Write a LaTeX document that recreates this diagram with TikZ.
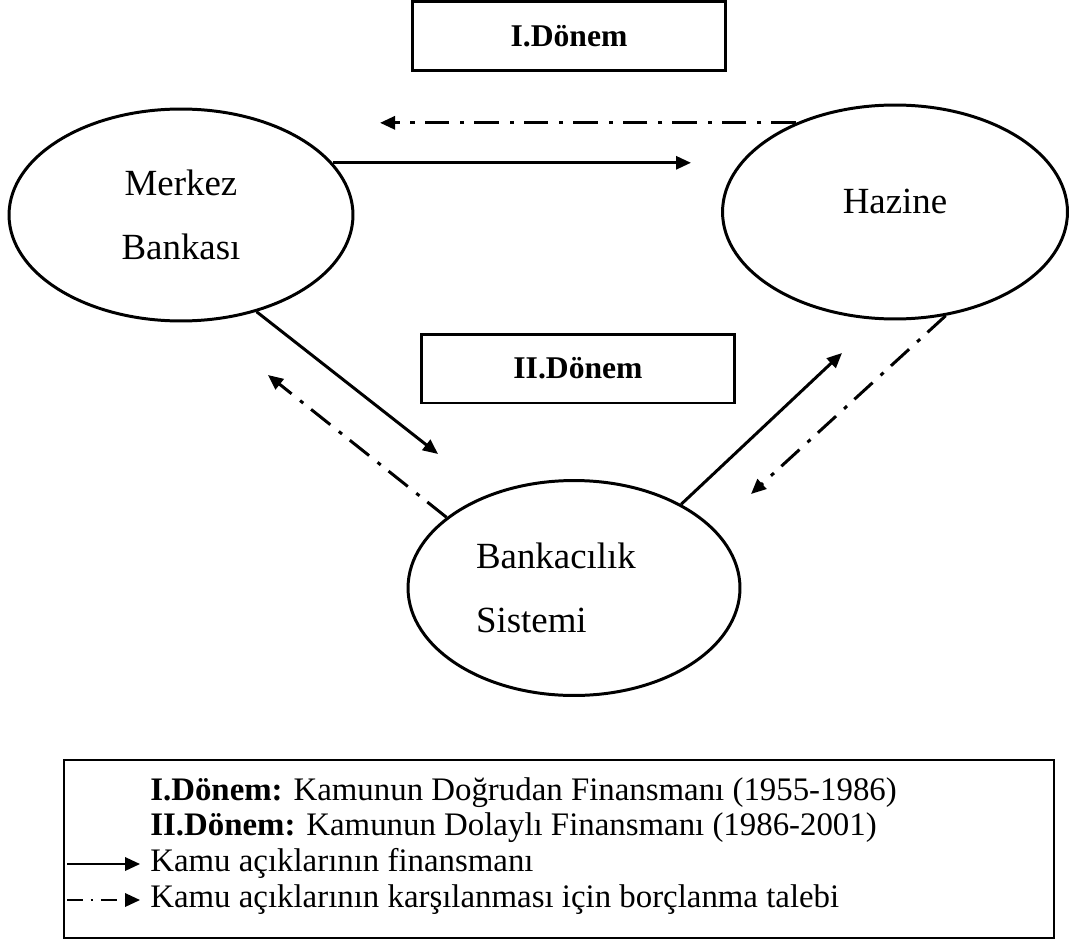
\documentclass[tikz,border=0pt]{standalone}
\usepackage{fontspec}
\setmainfont{Liberation Serif}
\usetikzlibrary{shapes.geometric, arrows.meta}
\tikzset{->,  % every connector is directed
>={Triangle[length=0.3cm, width=0.26cm]}, % filled triangle heads
sector/.style={ellipse, draw, line width=1.7pt, align=center,
  font=\fontsize{21}{36.6}\selectfont}, % the three institutions
period/.style={draw, line width=1.7pt, minimum width=6.28cm, minimum height=1.38cm,
  font=\fontsize{18}{22}\selectfont\bfseries}, % the period boxes
fin/.style={line width=1.7pt}, % financing
borrow/.style={line width=1.7pt, dash pattern=on 14pt off 5.7pt on 2.3pt off 6.2pt}, % borrowing demand
keyfin/.style={line width=1.1pt, >={Triangle[length=0.3cm, width=0.27cm]}},
keyborrow/.style={keyfin, dash pattern=on 9pt off 4.5pt on 1.3pt off 4.5pt},
keytext/.style={anchor=base west, inner sep=0pt, font=\fontsize{18.7}{22}\selectfont},
}

\begin{document}
\begin{tikzpicture}[x=0.02cm, y=-0.02cm]
  \useasboundingbox (0,0) rectangle (1070,942);

  \node[period] (p1) at (569,36) {I.Dönem};
  \node[period] (p2) at (578,368.5) {II.Dönem};

  \node[sector, minimum width=6.88cm, minimum height=4.24cm] (mb) at (181,215) {Merkez\\Bankası};
  \node[sector, minimum width=6.9cm, minimum height=4.28cm, text depth=0.44cm] (hz) at (895,212) {Hazine};
  \node[sector, minimum width=6.64cm, minimum height=4.3cm, align=left, text width=3.92cm] (bs) at (574,588) {Bankacılık\\Sistemi};

  % free ends of the arrows
  \coordinate (aL) at (380,123);
  \coordinate (aR) at (691,163);
  \coordinate (c3) at (438,454);
  \coordinate (c4) at (268,375);
  \coordinate (c5) at (842,353);
  \coordinate (c6) at (751,494);

  \draw[borrow] (hz.138) -- (hz.138 -| aL);
  \draw[fin] (mb.19) -- (mb.19 -| aR);
  \draw[fin] (mb.-52) -- (c3);
  \draw[borrow] (bs.151) -- (c4);
  \draw[fin] (bs.38) -- (c5);
  \draw[borrow] (hz.-64) -- (c6);

  % legend
  \draw[-, line width=1.1pt] (64,760) rectangle (1054,938);
  \node[keytext] (l1) at (150,800) {\textbf{I.Dönem:} Kamunun Doğrudan Finansmanı (1955-1986)};
  \node[keytext] (l2) at (150,835) {\textbf{II.Dönem:} Kamunun Dolaylı Finansmanı (1986-2001)};
  \node[keytext] (l3) at (150,871) {Kamu açıklarının finansmanı};
  \node[keytext] (l4) at (150,907) {Kamu açıklarının karşılanması için borçlanma talebi};
  \coordinate (k3) at (67,864);
  \coordinate (k4) at (67,900);
  \draw[keyfin, shorten >=0.2cm] (k3) -- (k3 -| l3.west);
  \draw[keyborrow, shorten >=0.2cm] (k4) -- (k4 -| l4.west);
\end{tikzpicture}
\end{document}
